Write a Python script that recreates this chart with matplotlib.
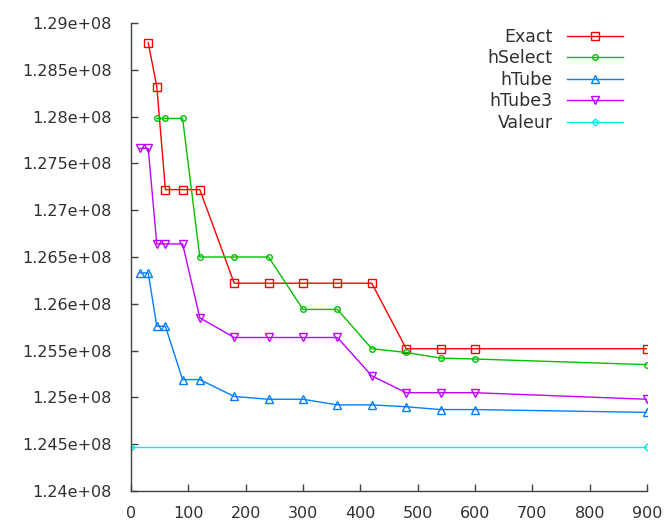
import numpy as np
import matplotlib
matplotlib.use("Agg")
import matplotlib.pyplot as plt

# data
x_exact = [30, 45, 60, 90, 120, 180, 240, 300, 360, 420, 480, 540, 600, 900]
exact = [1.2879e8, 1.2832e8, 1.2722e8, 1.2722e8, 1.2722e8, 1.2622e8, 1.2622e8,
         1.2622e8, 1.2622e8, 1.2622e8, 1.2552e8, 1.2552e8, 1.2552e8, 1.2552e8]

x_select = [45, 60, 90, 120, 180, 240, 300, 360, 420, 480, 540, 600, 900]
hselect = [1.2798e8, 1.2798e8, 1.2798e8, 1.2650e8, 1.2650e8, 1.2650e8, 1.2594e8,
           1.2594e8, 1.2552e8, 1.2548e8, 1.2542e8, 1.2541e8, 1.2535e8]

x_tube = [15, 30, 45, 60, 90, 120, 180, 240, 300, 360, 420, 480, 540, 600, 900]
htube = [1.2633e8, 1.2633e8, 1.2576e8, 1.2576e8, 1.2519e8, 1.2519e8, 1.2501e8,
         1.2498e8, 1.2498e8, 1.2492e8, 1.2492e8, 1.2490e8, 1.2487e8, 1.2487e8, 1.2484e8]
htube3 = [1.2766e8, 1.2766e8, 1.2664e8, 1.2664e8, 1.2664e8, 1.2585e8, 1.2564e8,
          1.2564e8, 1.2564e8, 1.2564e8, 1.2523e8, 1.2505e8, 1.2505e8, 1.2505e8, 1.2498e8]

x_valeur = [0, 900]
valeur = [1.2447e8, 1.2447e8]

y_ticks = np.arange(1.24e8, 1.2901e8, 0.005e8)
x_ticks = np.arange(0, 901, 100)

fig = plt.figure(figsize=(6.72, 5.2), dpi=100)
ax = fig.add_axes([131 / 672, 1 - 491 / 520, 516 / 672, 468 / 520])

ms = dict(markerfacecolor="none", markeredgewidth=1.0)
ax.plot(x_exact, exact, color="#ff0000", lw=1, marker="s", ms=5.5, label="Exact", **ms)
ax.plot(x_select, hselect, color="#00c000", lw=1, marker="o", ms=4, label="hSelect", **ms)
ax.plot(x_tube, htube, color="#0080ff", lw=1, marker="^", ms=6, label="hTube", **ms)
ax.plot(x_tube, htube3, color="#c000ff", lw=1, marker="v", ms=6, label="hTube3", **ms)
ax.plot(x_valeur, valeur, color="#00eeee", lw=1, marker="D", ms=3.5, label="Valeur", **ms)

ax.set_xlim(0, 900)
ax.set_ylim(1.24e8, 1.29e8)
ax.set_xticks(x_ticks)
ax.set_yticks(y_ticks)
ax.set_xticklabels([str(v) for v in x_ticks])
ax.set_yticklabels(["%ge+08" % (v / 1e8) for v in y_ticks])

# gnuplot look: only left/bottom border, ticks pointing in
for s in ["top", "right"]:
    ax.spines[s].set_visible(False)
for s in ["left", "bottom"]:
    ax.spines[s].set_color("#404040")
    ax.spines[s].set_linewidth(1.0)
ax.tick_params(direction="in", length=5, width=1, color="#404040",
               labelsize=11.5, labelcolor="#303030")
ax.tick_params(axis="y", pad=14)
ax.tick_params(axis="x", pad=11)

leg = ax.legend(loc="upper right", bbox_to_anchor=(623 / 672, 1 - 28 / 520),
                bbox_transform=fig.transFigure, frameon=False, markerfirst=False,
                fontsize=12.5, handlelength=3.2, handletextpad=0.85,
                labelspacing=0.2, borderpad=0, borderaxespad=0)
for t in leg.get_texts():
    t.set_color("#303030")

fig.savefig("out.png", dpi=100)
